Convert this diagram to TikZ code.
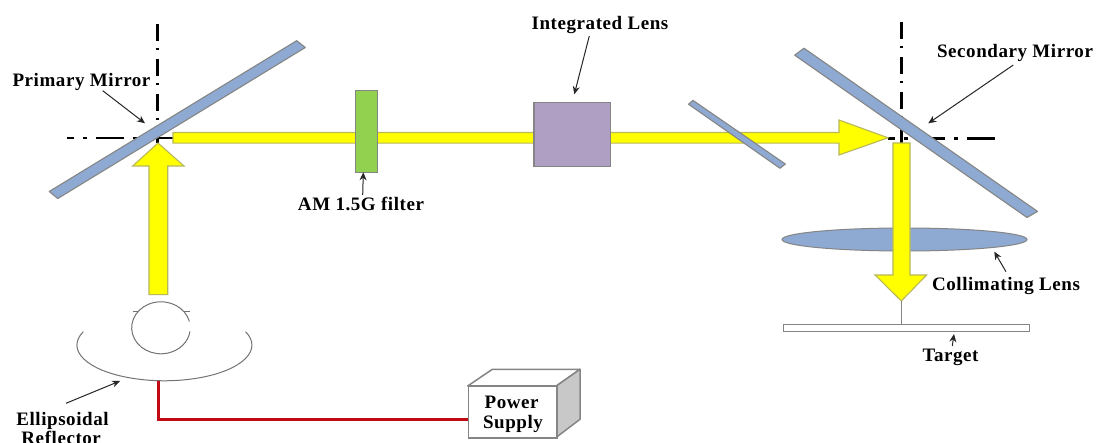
\documentclass[tikz,border=0pt]{standalone}
\usepackage{fontspec}
\setmainfont{Liberation Serif}[LetterSpace=3]
\usetikzlibrary{arrows.meta}
\definecolor{mirrorblue}{HTML}{8FAAD2}
\definecolor{edgegrey}{HTML}{858585}
\definecolor{beamedge}{HTML}{B8B85A}
\definecolor{beamyellow}{RGB}{255,255,0}
\definecolor{wirered}{HTML}{C00A14}
\definecolor{filtergreen}{HTML}{92D050}
\definecolor{lenspurple}{HTML}{AFA0C3}
\definecolor{sidegrey}{HTML}{C8C8C8}
\tikzset{
  x=1pt,y=-1pt,
  mirror/.style={draw=edgegrey,line width=1.1pt,fill=mirrorblue,line join=round},
  beam/.style={draw=beamedge,line width=1.1pt,fill=beamyellow,line join=miter},
  axisv/.style={draw=black,line width=2.6pt,dash pattern=on 17pt off 7pt on 2.5pt off 8.5pt},
  axish/.style={draw=black,line width=2.6pt,dash pattern=on 28pt off 9pt on 4pt off 9pt},
  lab/.style={font=\fontsize{19}{22}\selectfont\bfseries,text=black,inner sep=0pt,align=center},
  callout/.style={draw=black!85,line width=1pt,-{Stealth[length=8pt,width=7pt]}},
  blockbox/.style={draw=edgegrey,line width=1.5pt,inner sep=0pt,anchor=north west},
  lampline/.style={draw=black!55,line width=1pt},
}
\begin{document}
\begin{tikzpicture}
\clip (0,0) rectangle (1101,443);
\fill[white] (0,0) rectangle (1101,443);

% optical axes
\draw[axisv] (157.5,24) -- (157.5,143);
\draw[axish,dash phase=20.7] (66.7,138) -- (173,138);
\draw[axisv] (901.7,22) -- (901.7,143);
\draw[axish] (995,138.3) -- (888,138.3);

% mirrors
\draw[mirror] (49.2,191.5) -- (57.8,198.5) -- (305.3,47.5) -- (296.7,40.7) -- cycle;
\draw[mirror] (794.7,55.2) -- (804,48.2) -- (1037.5,211.4) -- (1027,217.5) -- cycle;

% horizontal beam
\draw[beam] (173,132.5) -- (839,132.5) -- (839,120) -- (888,137.8) -- (839,155) -- (839,143.2) -- (173,143.2) -- cycle;

% filter, lens, beam splitter
\node[blockbox,fill=filtergreen,minimum width=22pt,minimum height=81.7pt] (filter) at (354.7,90) {};
\node[blockbox,fill=lenspurple,minimum width=76.7pt,minimum height=64.3pt] (intlens) at (533,101.7) {};
\draw[mirror] (688.5,104.2) -- (693,100.4) -- (785.3,164) -- (780,168.3) -- cycle;

% up arrow
\draw[beam] (149,294.7) -- (149,166) -- (132.7,166) -- (158,143) -- (184,166) -- (167.7,166) -- (167.7,294.7) -- cycle;

% collimating lens and down arrow
\draw[draw=edgegrey,line width=1pt,fill=mirrorblue] (904.5,239.5) ellipse [x radius=122.5pt,y radius=11.5pt];
\draw[beam] (893,143) -- (910,143) -- (910,275) -- (926.7,275) -- (901.3,301) -- (875,275) -- (893,275) -- cycle;

% target
\coordinate (tip) at (901.3,301);
\node[draw=edgegrey,line width=1.3pt,fill=white,inner sep=0pt,anchor=north west,minimum width=246pt,minimum height=7pt] (target) at (782.7,324) {};
\draw[draw=edgegrey,line width=1.3pt] (tip) -- (tip |- target.north);

% lamp
\draw[lampline] (189.4,321.5) arc [start angle=14,end angle=352,x radius=29.3pt,y radius=26pt];
\draw[lampline] (132.5,311.7) -- (138,311.7);
\draw[lampline] (183.5,311.7) -- (189.5,311.7);

% reflector
\coordinate (refl) at (158.3,380.7);
\draw[lampline] (83.3,331.7) arc [start angle=158,end angle=382,x radius=87.5pt,y radius=35.7pt];

% power supply
\draw[draw=edgegrey,line width=1.5pt,fill=white,line join=round] (467.7,386) -- (492.3,369.3) -- (580,369.3) -- (556.3,386) -- cycle;
\draw[draw=edgegrey,line width=1.5pt,fill=sidegrey,line join=round] (556.3,386) -- (580,369.3) -- (580,419.3) -- (556.3,437.3) -- cycle;
\node[blockbox,fill=white,minimum width=88.6pt,minimum height=51.3pt] (psu) at (467.7,386) {};
\node[lab] (psutxt1) at (511.7,402.7) {Power};
\node[lab] (psutxt2) at (513,423.7) {Supply};

% wire
\coordinate (wirecorner) at (158.3,420);
\draw[draw=wirered,line width=3pt,line join=miter] (refl) -- (wirecorner) -- (psu.west |- wirecorner);

% labels
\node[lab] (lprimary) at (81.5,82) {Primary Mirror};
\node[lab] (lint) at (600,25.3) {Integrated Lens};
\node[lab] (lam) at (361,204) {AM 1.5G filter};
\node[lab] (lsec) at (1015,52.7) {Secondary Mirror};
\node[lab] (lcol) at (1006,286) {Collimating Lens};
\node[lab] (ltar) at (950.5,357) {Target};
\node[lab] (lell) at (62.5,421) {Ellipsoidal};
\node[lab] (lref) at (61.2,438) {Reflector};

% callouts
\coordinate (aP1) at (102.7,90.7); \coordinate (aP2) at (145,123.3);
\coordinate (aI1) at (589.3,36);   \coordinate (aI2) at (574.3,94.3);
\coordinate (aA1) at (362.7,195);  \coordinate (aA2) at (363.3,172.3);
\coordinate (aS1) at (1013.3,65);  \coordinate (aS2) at (928.3,123.3);
\coordinate (aC1) at (1006,271.7); \coordinate (aC2) at (994.3,251.7);
\coordinate (aT1) at (952.3,346);  \coordinate (aT2) at (954,334);
\coordinate (aE1) at (66,403.3);   \coordinate (aE2) at (120,381);
\draw[callout] (aP1) -- (aP2);
\draw[callout] (aI1) -- (aI2);
\draw[callout] (aA1) -- (aA2);
\draw[callout] (aS1) -- (aS2);
\draw[callout] (aC1) -- (aC2);
\draw[callout] (aT1) -- (aT2);
\draw[callout] (aE1) -- (aE2);
\end{tikzpicture}
\end{document}
